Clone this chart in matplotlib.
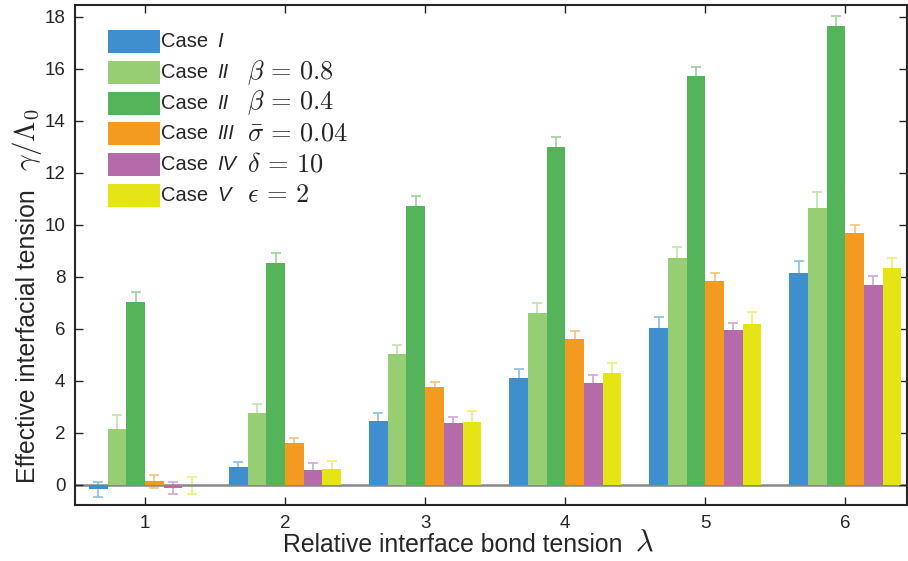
import numpy as np
import matplotlib
matplotlib.use("Agg")
import matplotlib.pyplot as plt
from matplotlib.patches import Rectangle

plt.rcParams["font.family"] = ["Liberation Sans", "DejaVu Sans"]
plt.rcParams["mathtext.fontset"] = "cm"

# ---- data ----
lam = [1, 2, 3, 4, 5, 6]
case_names = ["I", "II", "II", "III", "IV", "V"]
case_params = ["", r"$\beta\,=\,0.8$", r"$\beta\,=\,0.4$", r"$\bar{\sigma}\,=\,0.04$",
               r"$\delta\,=\,10$", r"$\epsilon\,=\,2$"]

case1 = [-0.17, 0.69, 2.46, 4.12, 6.04, 8.15]
case2a = [2.15, 2.77, 5.04, 6.62, 8.73, 10.65]
case2b = [7.04, 8.54, 10.73, 13.00, 15.73, 17.65]
case3 = [0.15, 1.62, 3.77, 5.62, 7.85, 9.69]
case4 = [-0.10, 0.58, 2.38, 3.92, 5.96, 7.69]
case5 = [-0.02, 0.62, 2.42, 4.31, 6.19, 8.35]

err1 = [0.30, 0.19, 0.31, 0.34, 0.42, 0.46]
err2a = [0.54, 0.35, 0.34, 0.38, 0.42, 0.62]
err2b = [0.38, 0.38, 0.38, 0.38, 0.35, 0.38]
err3 = [0.25, 0.19, 0.19, 0.30, 0.30, 0.31]
err4 = [0.23, 0.27, 0.24, 0.31, 0.27, 0.35]
err5 = [0.33, 0.30, 0.43, 0.38, 0.46, 0.38]

values = [case1, case2a, case2b, case3, case4, case5]
errors = [err1, err2a, err2b, err3, err4, err5]
colors = ["#3F8FCE", "#98CE73", "#55B45A", "#F39A21", "#B56AA9", "#E5E414"]
TXT = "#262626"

W, H = 908, 561
fig = plt.figure(figsize=(W / 100, H / 100), dpi=100)
ax = fig.add_axes([75 / W, 1 - 505 / H, (907 - 75) / W, (505 - 5) / H])


def px(x, y):
    return x / W, 1 - y / H


def lighten(c, f=0.45):
    rgb = np.array(matplotlib.colors.to_rgb(c))
    return tuple(rgb + (1 - rgb) * f)


x = np.array(lam, dtype=float)
n = len(values)
bw = 0.8 / n
for i, (v, e, c) in enumerate(zip(values, errors, colors)):
    xi = x + (i - (n - 1) / 2) * bw
    ax.errorbar(xi, v, yerr=e, fmt="none", ecolor=lighten(c), elinewidth=1.3,
                capsize=3.5, capthick=1.3, zorder=1)
    ax.bar(xi, v, width=bw, color=c, edgecolor="none", zorder=2)

ax.axhline(0, color="#888888", lw=1.8, zorder=1.5)

ax.set_xlim(0.5, 6.44)
ax.set_ylim(-0.77, 18.46)
ax.set_xticks(lam)
ax.set_yticks(np.arange(0, 19, 2))
ax.tick_params(direction="in", length=6, width=1.0, colors=TXT, labelsize=13.5,
               top=True, right=True, pad=7)
for s in ax.spines.values():
    s.set_color(TXT)
    s.set_linewidth(1.5)

# axis labels (text + math parts)
fig.text(*px(453, 545), "Relative interface bond tension", ha="center", va="center",
         fontsize=17.8, color=TXT)
fig.text(*px(644, 543), r"$\lambda$", ha="center", va="center", fontsize=22, color=TXT)
fig.text(*px(28, 336), "Effective interfacial tension", ha="center", va="center",
         rotation=90, fontsize=17.8, color=TXT)
fig.text(*px(27, 140), r"$\gamma/\Lambda_0$", ha="center", va="center",
         rotation=90, fontsize=21, color=TXT)

# legend drawn by hand (mixed fonts)
for k in range(n):
    yc = 41.5 + k * 30.8
    fx, fy = px(108, yc + 11.5)
    fig.patches.append(Rectangle((fx, fy), 52 / W, 23 / H, transform=fig.transFigure,
                                 facecolor=colors[k], edgecolor="none"))
    fig.text(*px(161, yc), "Case", ha="left", va="center", fontsize=14.5, color=TXT)
    fig.text(*px(217, yc), case_names[k], ha="left", va="center", fontsize=14.5,
             style="italic", color=TXT)
    if case_params[k]:
        fig.text(*px(247, yc), case_params[k], ha="left", va="center", fontsize=19,
                 color=TXT)

fig.savefig("out.png", dpi=100)
